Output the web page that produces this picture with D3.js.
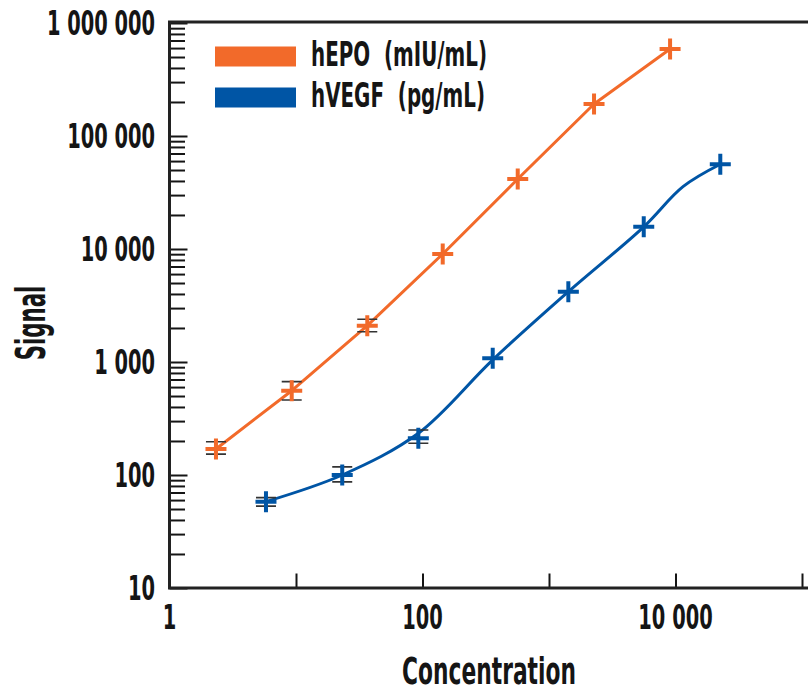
<!DOCTYPE html>
<html>
<head>
<meta charset="utf-8">
<script src="https://cdn.jsdelivr.net/npm/d3@7/dist/d3.min.js"></script>
<style>
  body { margin: 0; background: #fff; }
  text { font-family: "DejaVu Sans Condensed", "DejaVu Sans", sans-serif; font-weight: bold; fill: #151515; }
</style>
</head>
<body>
<svg id="chart" width="808" height="694"></svg>
<script>
// ---- data ----
const seriesNames = ["hEPO  (mIU/mL)", "hVEGF  (pg/mL)"];
const seriesColors = ["#F26A2A", "#0055A5"];

// measured points
const epoConc     = [2.33, 9.25, 36.6, 144.5, 566, 2270, 9060];
const epoSignal   = [170, 557, 2095, 9030, 41600, 192000, 589000];
const epoErrLow   = [153, 461, 1853, null, null, null, null];
const epoErrHigh  = [197, 670, 2390, null, null, null, null];

const vegfConc    = [5.79, 23.2, 92.7, 359, 1422, 5610, 22600];
const vegfSignal  = [58.1, 100, 211, 1079, 4190, 15700, 56200];
const vegfErrLow  = [53, 87, 191, null, null, null, null];
const vegfErrHigh = [63, 118, 250, null, null, null, null];

// fitted curve for hVEGF as traced on the picture
const vegfFitConc   = [5.79, 23.2, 92.7, 359, 1422, 5610, 11460, 22600];
const vegfFitSignal = [58.1, 100, 234, 1045, 4190, 15700, 35600, 56200];

const xTickValues = [1, 10, 100, 1000, 10000, 100000];
const xTickLabels = ["1", "", "100", "", "10 000", ""];
const yTickValues = [10, 100, 1000, 10000, 100000, 1000000];
const yTickLabels = ["10", "100", "1 000", "10 000", "100 000", "1 000 000"];
const xTitle = "Concentration";
const yTitle = "Signal";

(function () {
  const W = 808;
  const pLeft = 169.5, pBottom = 588, pTop = 22;
  const svg = d3.select("#chart");

  const x = d3.scaleLog().domain([1, 100000]).range([pLeft, 802]);
  const y = d3.scaleLog().domain([10, 1000000]).range([pBottom, 23]);

  const SX = 0.635; // horizontal condensing of text

  const yMinor = [];
  yTickValues.slice(0, -1).forEach(d => { for (let k = 2; k <= 9; k++) yMinor.push(d * k); });

  svg.append("g").attr("transform", `translate(${pLeft},0)`)
    .call(d3.axisLeft(y).tickValues(yMinor).tickSizeInner(-15.5).tickSizeOuter(0).tickFormat(""))
    .call(g => g.select(".domain").remove())
    .call(g => g.selectAll("line").attr("stroke", "#151515").attr("stroke-width", 2));
  svg.append("g").attr("transform", `translate(${pLeft},0)`)
    .call(d3.axisLeft(y).tickValues(yTickValues).tickSizeInner(-18).tickSizeOuter(0).tickFormat(""))
    .call(g => g.select(".domain").remove())
    .call(g => g.selectAll("line").attr("stroke", "#151515").attr("stroke-width", 2));

  svg.append("g").attr("transform", `translate(0,${pBottom})`)
    .call(d3.axisBottom(x).tickValues(xTickValues).tickSizeInner(-14.5).tickSizeOuter(0).tickFormat(""))
    .call(g => g.select(".domain").remove())
    .call(g => g.selectAll("line").attr("stroke", "#151515").attr("stroke-width", 2));

  svg.append("path")
    .attr("d", `M${W},${pTop}H${pLeft}V${pBottom}H${W}`)
    .attr("fill", "none").attr("stroke", "#222").attr("stroke-width", 3);

  svg.append("g").selectAll("text").data(yTickValues).join("text")
    .attr("transform", d => `translate(155,${y(d) + 12}) scale(${SX},1)`)
    .attr("text-anchor", "end").attr("font-size", 34)
    .text((d, i) => yTickLabels[i]);
  svg.append("g").selectAll("text").data(xTickValues).join("text")
    .attr("transform", d => `translate(${x(d)},629) scale(${SX},1)`)
    .attr("text-anchor", "middle").attr("font-size", 34)
    .text((d, i) => xTickLabels[i]);

  svg.append("text")
    .attr("transform", `translate(489,684) scale(0.655,1)`)
    .attr("text-anchor", "middle").attr("font-size", 37).text(xTitle);
  svg.append("text")
    .attr("transform", `translate(45,323) rotate(-90) scale(0.59,1)`)
    .attr("text-anchor", "middle").attr("font-size", 40).text(yTitle);

  const series = [
    { conc: epoConc, sig: epoSignal, lo: epoErrLow, hi: epoErrHigh, fc: epoConc, fs: epoSignal, curve: d3.curveLinear },
    { conc: vegfConc, sig: vegfSignal, lo: vegfErrLow, hi: vegfErrHigh, fc: vegfFitConc, fs: vegfFitSignal, curve: d3.curveCatmullRom.alpha(0.5) }
  ];

  series.forEach((s, si) => {
    const pts = s.conc.map((c, i) => [c, s.sig[i], s.lo[i], s.hi[i]]);
    const fit = s.fc.map((c, i) => [c, s.fs[i]]);
    const line = d3.line().x(d => x(d[0])).y(d => y(d[1])).curve(s.curve);
    const g = svg.append("g");
    g.append("path").attr("d", line(fit)).attr("fill", "none")
      .attr("stroke", seriesColors[si]).attr("stroke-width", 3).attr("stroke-linejoin", "round");
    const eb = pts.filter(p => p[2] != null);
    g.selectAll(".eb").data(eb).join("path").attr("class", "eb")
      .attr("d", p => {
        const cx = x(p[0]), yl = y(p[2]), yh = y(p[3]);
        return `M${cx - 10},${yl}H${cx + 10}M${cx - 10},${yh}H${cx + 10}M${cx},${yl}V${yh}`;
      })
      .attr("fill", "none").attr("stroke", "#333").attr("stroke-width", 1.6);
    g.selectAll(".mk").data(pts).join("path").attr("class", "mk")
      .attr("transform", p => `translate(${x(p[0])},${y(p[1])})`)
      .attr("d", "M-10.5,0H10.5M0,-10.5V10.5")
      .attr("fill", "none").attr("stroke", seriesColors[si]).attr("stroke-width", 4);
  });

  const lg = svg.append("g");
  seriesNames.forEach((name, i) => {
    lg.append("rect").attr("x", 215).attr("y", 46.5 + i * 41).attr("width", 81).attr("height", 20)
      .attr("fill", seriesColors[i]);
    lg.append("text")
      .attr("transform", `translate(311,${66 + i * 41}) scale(0.65,1)`)
      .attr("font-size", 34).style("white-space", "pre")
      .text(name);
  });
})();
</script>
</body>
</html>
